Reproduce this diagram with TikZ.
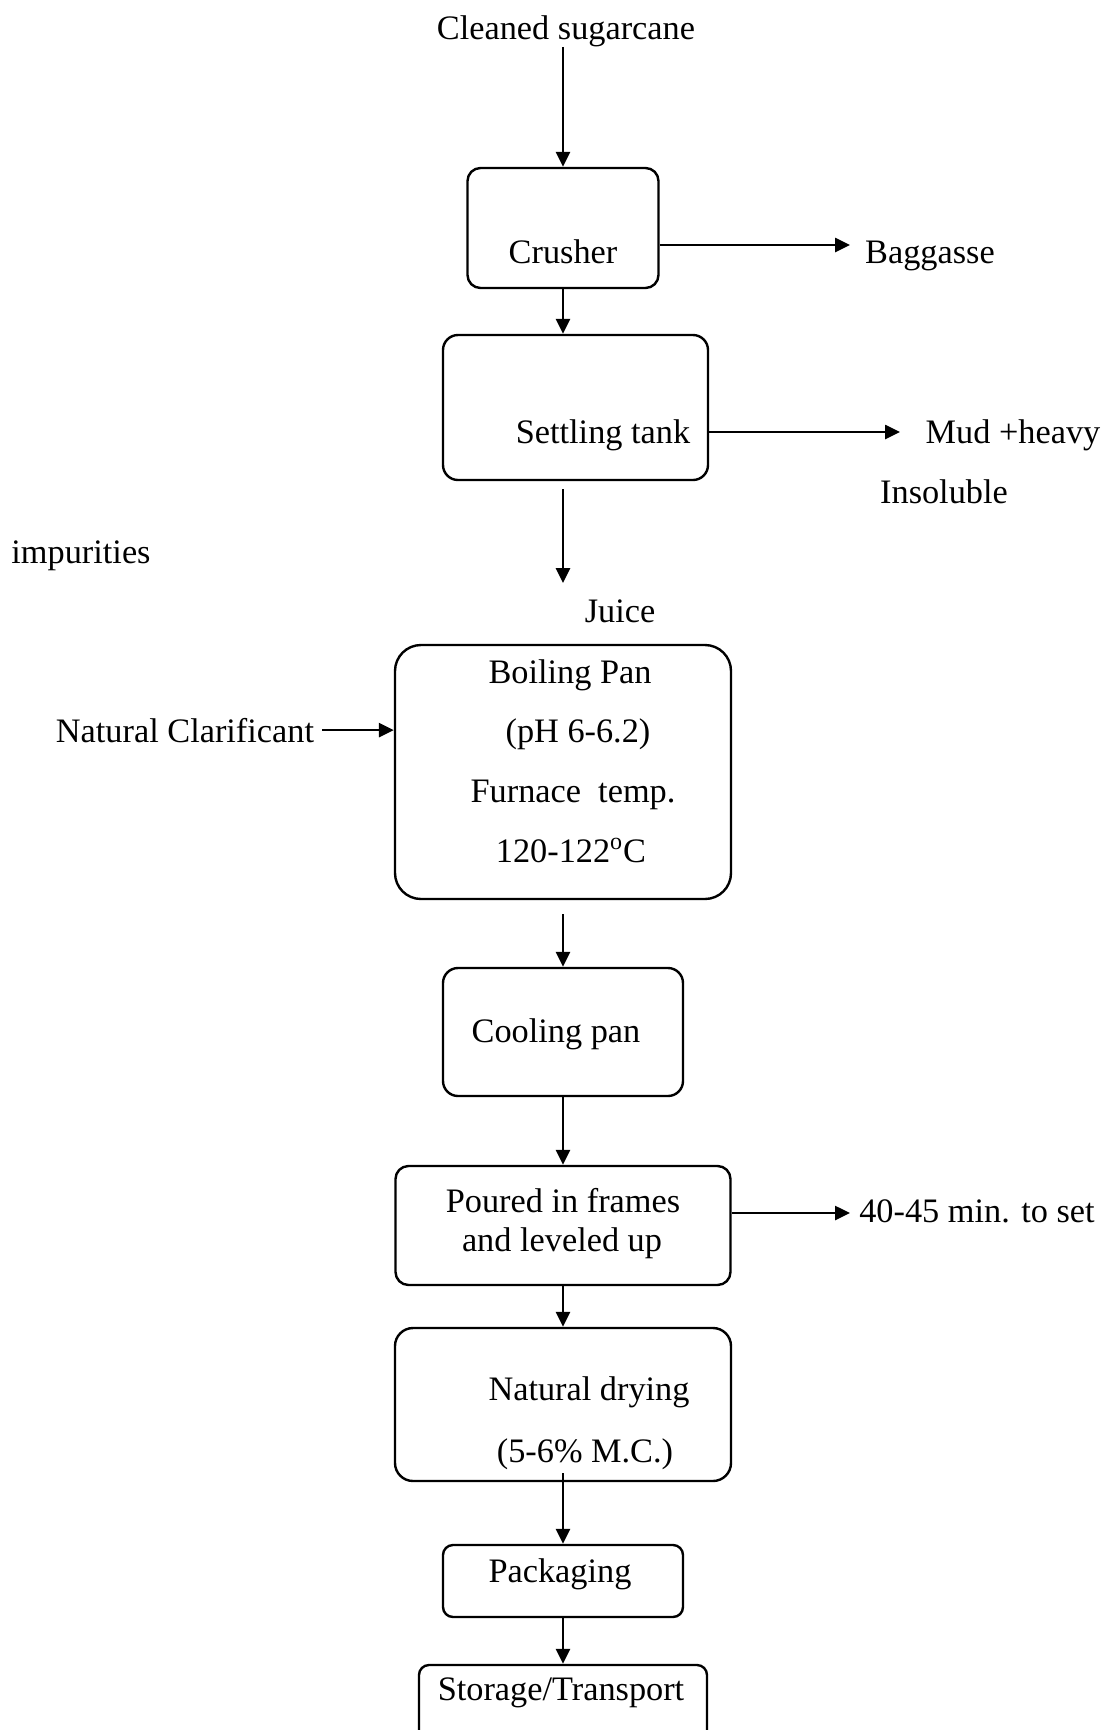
\documentclass[tikz,border=0pt]{standalone}
\usepackage{fontspec}
\setmainfont{Liberation Serif}
\usetikzlibrary{arrows.meta,calc}
\begin{document}
\begin{tikzpicture}[x=0.5pt,y=-0.5pt,
  txt/.style={font=\fontsize{17.15pt}{20pt}\selectfont, inner sep=0pt, anchor=base},
  box/.style={draw, line width=1.2pt, rounded corners=#1, inner sep=0pt},
  box/.default=6.5pt,
  arr/.style={line width=1.3pt, -{Triangle[length=7.5pt,width=7pt]}}]
\useasboundingbox (0,0) rectangle (1110,1730);
\fill[white] (0,0) rectangle (1110,1730);
\clip (0,0) rectangle (1110,1730);

% boxes
\node[box=6.5pt, minimum width=95.5pt, minimum height=60pt] (crusher) at (563,228) {};
\node[box=7.5pt, minimum width=132.5pt, minimum height=72.5pt] (settle) at (575.5,407.5) {};
\node[box=13pt, minimum width=168pt, minimum height=127pt] (boil) at (563,772) {};
\node[box=7.5pt, minimum width=120pt, minimum height=64pt] (cool) at (563,1032) {};
\node[box=6.5pt, minimum width=167.5pt, minimum height=59.5pt] (poured) at (563,1225.5) {};
\node[box=9pt, minimum width=168pt, minimum height=76.5pt] (dry) at (563,1404.5) {};
\node[box=5pt, minimum width=120pt, minimum height=36pt] (pack) at (563,1581) {};
\node[box=5pt, minimum width=144pt, minimum height=67.5pt] (store) at (563,1732.5) {};

% texts
\node[txt] (src) at (566,39) {Cleaned sugarcane};
\node[txt] (tcrusher) at (563,263) {Crusher};
\node[txt] (bag) at (930,263) {Baggasse};
\node[txt] (tsettle) at (603,443) {Settling tank};
\node[txt] (mud) at (1013,443) {Mud +heavy};
\node[txt] (insol) at (944,503) {Insoluble};
\node[txt] (impur) at (81,563) {impurities};
\node[txt] (juice) at (620,622) {Juice};
\node[txt] (b1) at (570,683) {Boiling Pan};
\node[txt] (b2) at (578,742) {(pH 6-6.2)};
\node[txt] (b3) at (573,802) {Furnace~~temp.};
\node[txt] (b4) at (571,862) {120-122\textsuperscript{o}C};
\node[txt] (clar) at (185,742) {Natural Clarificant};
\node[txt] (tcool) at (556,1042) {Cooling pan};
\node[txt] (p1) at (563,1212) {Poured in frames};
\node[txt] (p2) at (562,1251) {and leveled up};
\node[txt] (set) at (977,1222) {40-45 min. to set};
\node[txt] (d1) at (589,1400) {Natural drying};
\node[txt] (d2) at (585,1462) {(5-6\% M.C.)};
\node[txt] (tpack) at (560,1582) {Packaging};
\node[txt] (tstore) at (561,1700) {Storage/Transport};

% free ends
\coordinate (juicetip) at (563,583);
\coordinate (bagtip) at (850,245);
\coordinate (mudtip) at (900,432);
\coordinate (settip) at (850,1213);

% connectors
\draw[arr] (crusher.north |- src.south) -- (crusher.north);
\draw[arr] (crusher.south) -- (crusher.south |- settle.north);
\draw[arr, shorten <=4pt] (settle.south -| juicetip) -- (juicetip);
\draw[arr, shorten <=7pt] (boil.south) -- (cool.north);
\draw[arr] (cool.south) -- (poured.north);
\draw[arr] (poured.south) -- (dry.north);
\draw[arr, shorten <=-4.5pt] (dry.south) -- (pack.north);
\draw[arr] (pack.south) -- (store.north);
\draw[arr] (crusher.east |- bagtip) -- (bagtip);
\draw[arr] (settle.east |- mudtip) -- (mudtip);
\draw[arr, shorten <=4pt] (clar.east) -- (clar.east -| boil.west);
\draw[arr] (poured.east |- settip) -- (settip);
\end{tikzpicture}
\end{document}
